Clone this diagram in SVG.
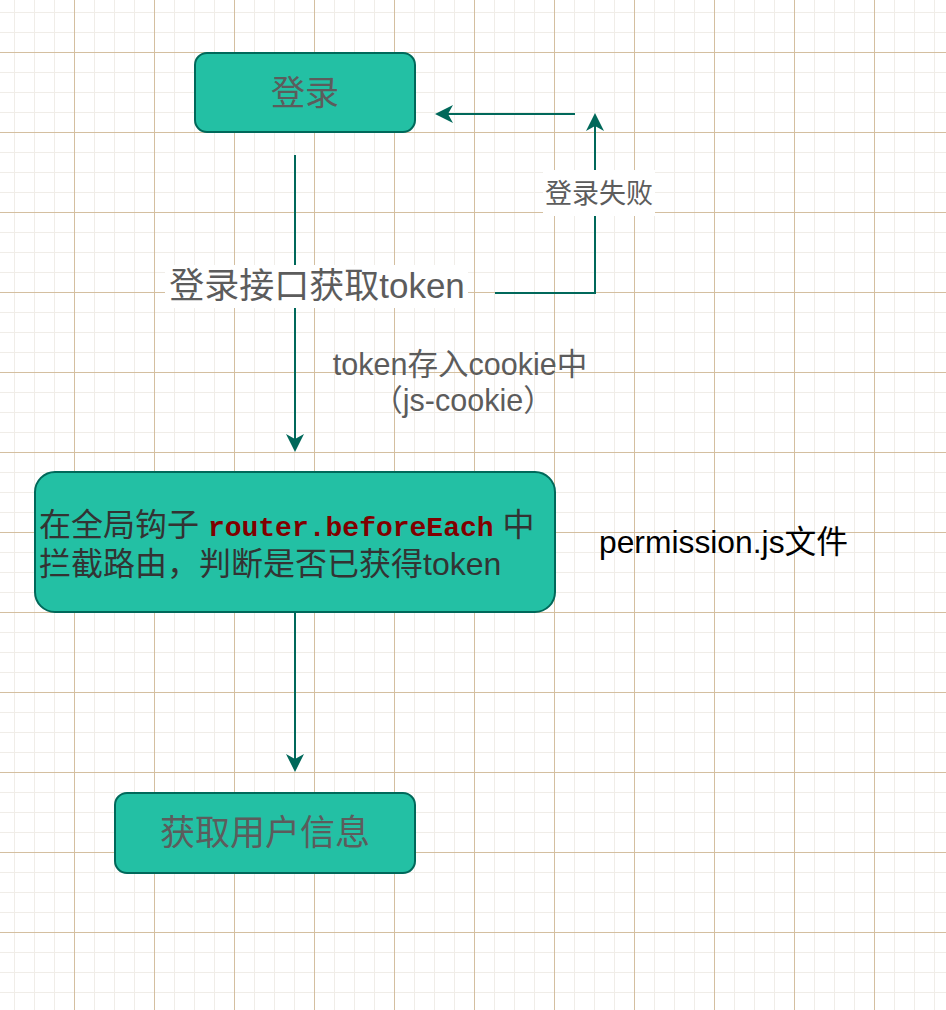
<svg xmlns="http://www.w3.org/2000/svg" width="946" height="1010" viewBox="0 0 946 1010">
<defs>
<pattern id="minor" patternUnits="userSpaceOnUse" x="14" y="12" width="20" height="20">
<rect x="0" y="0" width="20" height="1" fill="#f0ede8"/>
<rect x="0" y="0" width="1" height="20" fill="#f0ede8"/>
</pattern>
<pattern id="major" patternUnits="userSpaceOnUse" x="74" y="52" width="80" height="80">
<rect x="0" y="0" width="80" height="1" fill="#d4bfa0"/>
<rect x="0" y="0" width="1" height="80" fill="#d4bfa0"/>
</pattern>
<marker id="arr" viewBox="0 0 18 18" refX="8" refY="9" markerWidth="18" markerHeight="18" markerUnits="userSpaceOnUse" orient="auto">
<path d="M0,0 L18,9 L0,18 L5,9 Z" fill="#00685a"/>
</marker>
<style>
.node{fill:#23c0a4;stroke:#00685a;stroke-width:2}
.edge{fill:none;stroke:#00685a;stroke-width:2}
.t{font-family:"Liberation Sans","Noto Sans CJK SC",sans-serif}
.grey{fill:#5c5c5c}
.lbl{fill:#ffffff}
</style>
</defs>
<rect width="946" height="1010" fill="#ffffff"/>
<rect width="946" height="1010" fill="url(#minor)"/>
<rect width="946" height="1010" fill="url(#major)"/>

<g id="connectors">
<path class="edge" d="M295,155 V442" marker-end="url(#arr)"/>
<path class="edge" d="M495,293 H595 V123" marker-end="url(#arr)"/>
<path class="edge" d="M575,114 H445" marker-end="url(#arr)"/>
<path class="edge" d="M295,612 V762" marker-end="url(#arr)"/>
<g id="label-login-api">
<rect class="lbl" x="165" y="265" width="303" height="43"/>
<text class="t grey" x="317" y="298" font-size="35" text-anchor="middle">登录接口获取token</text>
</g>
<g id="label-login-fail">
<rect class="lbl" x="543" y="170" width="112" height="46"/>
<text class="t grey" x="599" y="203" font-size="27" text-anchor="middle">登录失败</text>
</g>
<g id="label-cookie">
<text class="t grey" x="460" y="375" font-size="30.5" text-anchor="middle">token存入cookie中</text>
<text class="t grey" x="463" y="411" font-size="30.5" text-anchor="middle">（js-cookie）</text>
</g>
</g>

<g id="node-login">
<rect class="node" x="195" y="53" width="220" height="79" rx="12"/>
<text class="t grey" x="305" y="105" font-size="34" text-anchor="middle">登录</text>
</g>

<g id="node-router">
<rect class="node" x="35" y="472" width="520" height="140" rx="20"/>
<text class="t" x="39" y="536" font-size="32" fill="#333333">在全局钩子 <tspan font-family="'Liberation Mono','DejaVu Sans Mono',monospace" font-weight="bold" font-size="28" fill="#800000">router.beforeEach</tspan> 中</text>
<text class="t" x="39" y="575" font-size="32" fill="#333333">拦截路由，判断是否已获得token</text>
</g>

<g id="node-userinfo">
<rect class="node" x="115" y="793" width="300" height="80" rx="12"/>
<text class="t grey" x="265" y="845" font-size="35" text-anchor="middle">获取用户信息</text>
</g>

<g id="note-permission">
<text class="t" x="599" y="553" font-size="31.8" fill="#000000">permission.js文件</text>
</g>
</svg>
